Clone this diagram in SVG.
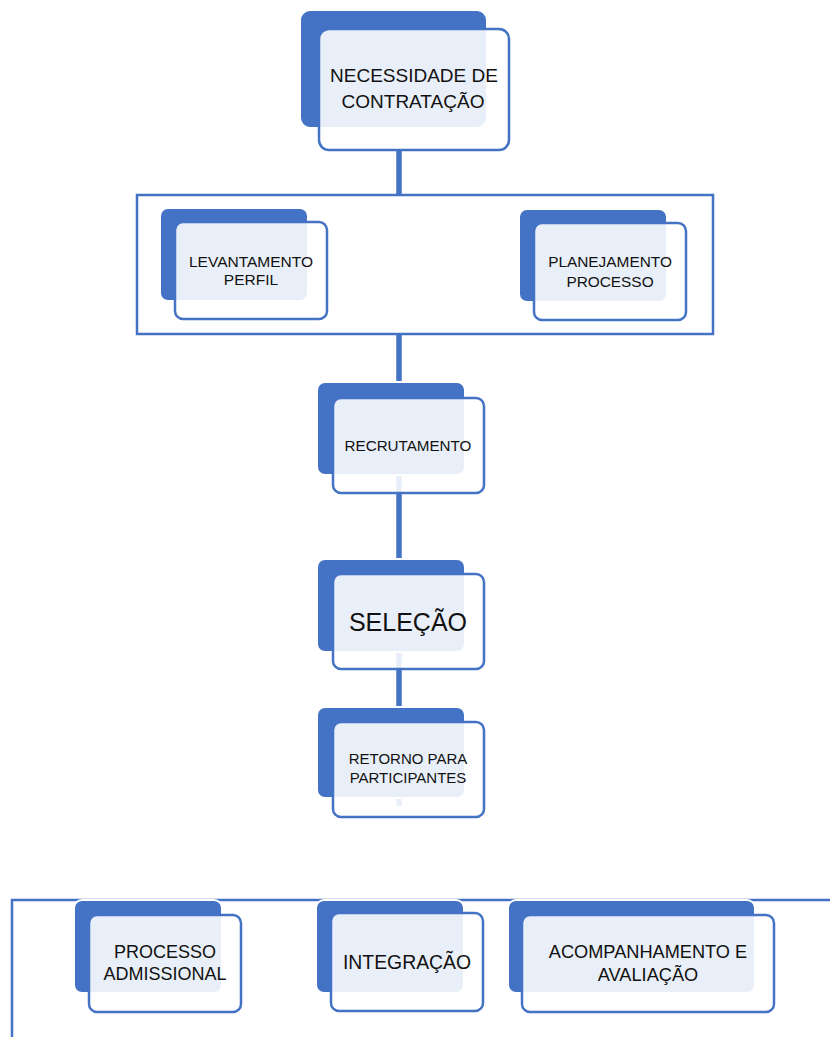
<svg xmlns="http://www.w3.org/2000/svg" width="830" height="1037" viewBox="0 0 830 1037">
<style>
.back{fill:#4472C4;stroke:#FFFFFF;stroke-width:2}
.front{fill:#FFFFFF;fill-opacity:0.885;stroke:#4472C4;stroke-width:2.5}
.frame{fill:none;stroke:#4472C4;stroke-width:2.5}
.conn{stroke:#4472C4;stroke-width:5.5;fill:none}
.t{font-family:"Liberation Sans",Arial,sans-serif;fill:#111111;text-anchor:middle}
</style>
<rect width="830" height="1037" fill="#FFFFFF"/>
<g id="connectors">
<line class="conn" x1="399" y1="150" x2="399" y2="195"/>
<line class="conn" x1="399" y1="334" x2="399" y2="384"/>
<line class="conn" x1="399" y1="474" x2="399" y2="560"/>
<line class="conn" x1="399" y1="651" x2="399" y2="708"/>
<line class="conn" x1="399" y1="799" x2="399" y2="806"/>
</g>
<g id="necessidade">
<rect class="back" x="300" y="10" width="187" height="118" rx="10"/>
<rect class="front" x="319" y="29" width="190" height="121" rx="10"/>
<text class="t" font-size="19" x="414" y="82">NECESSIDADE DE</text>
<text class="t" font-size="19" x="413" y="108">CONTRATAÇÃO</text>
</g>
<g id="grupo-planejamento">
<rect class="frame" x="137" y="195" width="576" height="139"/>
</g>
<g id="levantamento">
<rect class="back" x="160" y="208" width="148" height="93" rx="8"/>
<rect class="front" x="175" y="222" width="152" height="97" rx="8"/>
<text class="t" font-size="15.5" x="251" y="267">LEVANTAMENTO</text>
<text class="t" font-size="15.5" x="251" y="285">PERFIL</text>
</g>
<g id="planejamento">
<rect class="back" x="519" y="209" width="148" height="93" rx="8"/>
<rect class="front" x="534" y="223" width="152" height="97" rx="8"/>
<text class="t" font-size="15.4" x="610" y="267">PLANEJAMENTO</text>
<text class="t" font-size="15.4" x="610" y="287">PROCESSO</text>
</g>
<g id="recrutamento">
<rect class="back" x="317" y="382" width="148" height="93" rx="8"/>
<rect class="front" x="333" y="398" width="151" height="95" rx="8"/>
<text class="t" font-size="15.2" x="408" y="451">RECRUTAMENTO</text>
</g>
<g id="selecao">
<rect class="back" x="317" y="559" width="148" height="93" rx="8"/>
<rect class="front" x="333" y="574" width="151" height="95" rx="8"/>
<text class="t" font-size="25" x="408" y="631">SELEÇÃO</text>
</g>
<g id="retorno">
<rect class="back" x="317" y="707" width="148" height="91" rx="8"/>
<rect class="front" x="333" y="722" width="151" height="95" rx="8"/>
<text class="t" font-size="15" x="408" y="764">RETORNO PARA</text>
<text class="t" font-size="15" x="408" y="783">PARTICIPANTES</text>
</g>
<g id="grupo-final">
<polyline class="frame" points="12,1037 12,900 830,900"/>
</g>
<g id="processo-admissional">
<rect class="back" x="74" y="900" width="148" height="93" rx="8"/>
<rect class="front" x="89" y="915" width="152" height="97" rx="8"/>
<text class="t" font-size="18" x="165" y="958">PROCESSO</text>
<text class="t" font-size="18" x="165" y="980">ADMISSIONAL</text>
</g>
<g id="integracao">
<rect class="back" x="316" y="900" width="148" height="93" rx="8"/>
<rect class="front" x="331" y="913" width="152" height="98" rx="8"/>
<text class="t" font-size="19.4" x="407" y="969">INTEGRAÇÃO</text>
</g>
<g id="acompanhamento">
<rect class="back" x="508" y="900" width="247" height="93" rx="8"/>
<rect class="front" x="522" y="915" width="252" height="97" rx="8"/>
<text class="t" font-size="18.2" x="648" y="958">ACOMPANHAMENTO E</text>
<text class="t" font-size="18.2" x="648" y="981">AVALIAÇÃO</text>
</g>
</svg>
